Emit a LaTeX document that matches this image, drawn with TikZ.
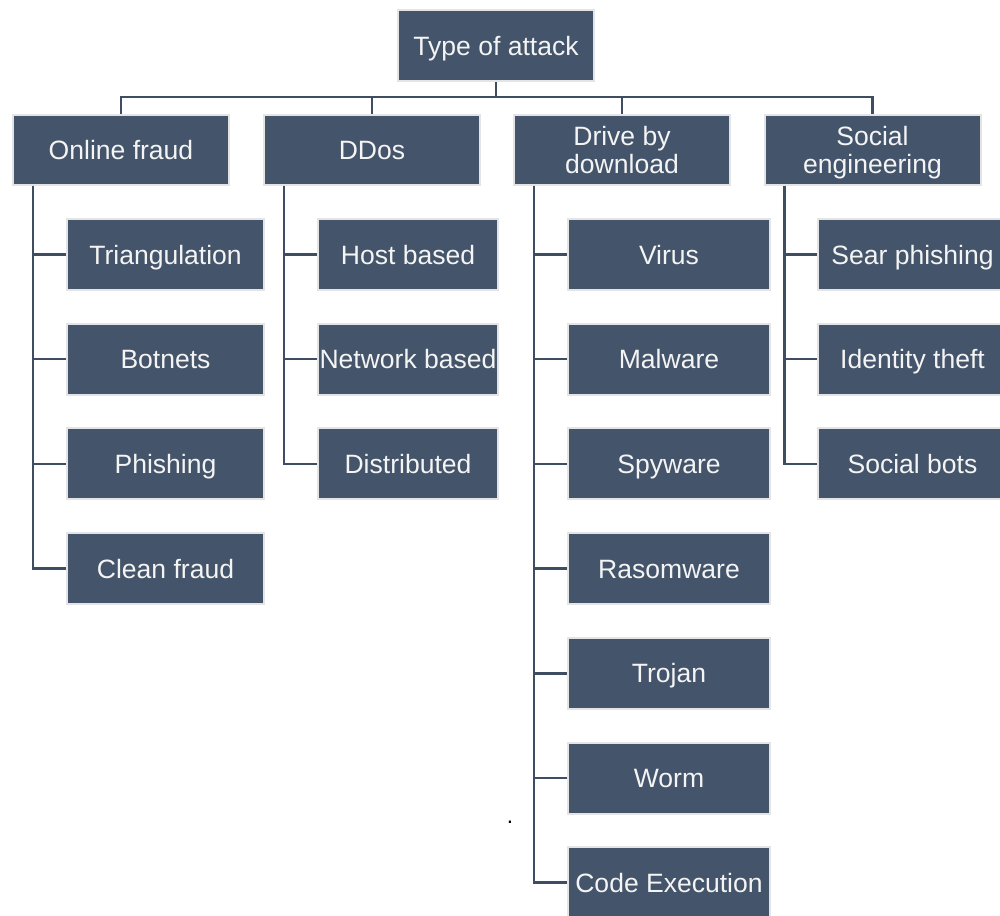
\documentclass[tikz,border=0pt]{standalone}
\usepackage{fontspec}
\setmainfont{Liberation Sans}
\usetikzlibrary{calc}
\definecolor{boxfill}{HTML}{44546A}
\definecolor{boxedge}{HTML}{E4E4E4}
\definecolor{linkcol}{HTML}{3E4D62}
\definecolor{txt}{HTML}{F4F4F4}
\begin{document}
\begin{tikzpicture}[x=0.75pt,y=-0.75pt,
  box/.style={draw=boxedge,line width=1.5pt,fill=boxfill,text=txt,inner sep=0pt,
    align=center,font=\fontsize{19.9pt}{20.6pt}\selectfont},
  oneline/.style={text height=14.3pt,text depth=0pt},
  twoline/.style={text height=34.9pt,text depth=0pt},
  rootbox/.style={box,oneline,minimum width=147pt,minimum height=53.25pt},
  topbox/.style={box,minimum width=162pt,minimum height=52.5pt},
  leafa/.style={box,oneline,minimum width=147.75pt,minimum height=53.25pt},
  leafb/.style={box,oneline,minimum width=135pt,minimum height=53.25pt},
  leafc/.style={box,oneline,minimum width=151.5pt,minimum height=53.25pt},
  leafd/.style={box,oneline,minimum width=141.75pt,minimum height=53.25pt},
  link/.style={draw=linkcol,line width=1.9pt}]
\useasboundingbox (0,0) rectangle (1000,916);
\begin{scope}
\clip (0,0) rectangle (1000,916);

% root and first level
\node[rootbox] (root) at (496,45.5) {Type of attack};
\node[topbox,oneline] (of) at (121,150) {Online fraud};
\node[topbox,oneline] (dd) at (372,150) {DDos};
\node[topbox,twoline] (dbd) at (622,150) {Drive by\\download};
\node[topbox,twoline] (se) at (872.5,150) {Social\\engineering};

% bus between root and first level
\coordinate (bus) at (496,97);
\draw[link] (root.south) -- (root.south|-bus);
\draw[link] (of.north) -- (of.north|-bus) -- (se.north|-bus) -- (se.north);
\draw[link] (dd.north) -- (dd.north|-bus);
\draw[link] (dbd.north) -- (dbd.north|-bus);

% Online fraud
\node[leafa] (a1) at (165.5,254.5) {Triangulation};
\node[leafa] (a2) at (165.5,359.2) {Botnets};
\node[leafa] (a3) at (165.5,463.9) {Phishing};
\node[leafa] (a4) at (165.5,568.6) {Clean fraud};

% DDos
\node[leafb] (b1) at (408,254.5) {Host based};
\node[leafb] (b2) at (408,359.2) {Network based};
\node[leafb] (b3) at (408,463.9) {Distributed};

% Drive by download
\node[leafc] (c1) at (669,254.5) {Virus};
\node[leafc] (c2) at (669,359.2) {Malware};
\node[leafc] (c3) at (669,463.9) {Spyware};
\node[leafc] (c4) at (669,568.6) {Rasomware};
\node[leafc] (c5) at (669,673.3) {Trojan};
\node[leafc] (c6) at (669,778) {Worm};
\node[leafc] (c7) at (669,882.7) {Code Execution};

% Social engineering
\node[leafd] (d1) at (912.5,254.5) {Sear phishing};
\node[leafd] (d2) at (912.5,359.2) {Identity theft};
\node[leafd] (d3) at (912.5,463.9) {Social bots};

% branch roots
\coordinate (ofb) at ($(of.south west)+(21,0)$);
\coordinate (ddb) at ($(dd.south west)+(21,0)$);
\coordinate (dbdb) at ($(dbd.south west)+(21,0)$);
\coordinate (seb) at ($(se.south west)+(21,0)$);

\foreach \n in {a1,a2,a3,a4} \draw[link] (ofb) |- (\n.west);
\foreach \n in {b1,b2,b3} \draw[link] (ddb) |- (\n.west);
\foreach \n in {c1,c2,c3,c4,c5,c6,c7} \draw[link] (dbdb) |- (\n.west);
\foreach \n in {d1,d2,d3} \draw[link] (seb) |- (\n.west);

% stray full stop
\node[font=\fontsize{17pt}{17pt}\selectfont,inner sep=0pt,anchor=base] (dot) at (510,823) {.};
\end{scope}
\end{tikzpicture}
\end{document}
